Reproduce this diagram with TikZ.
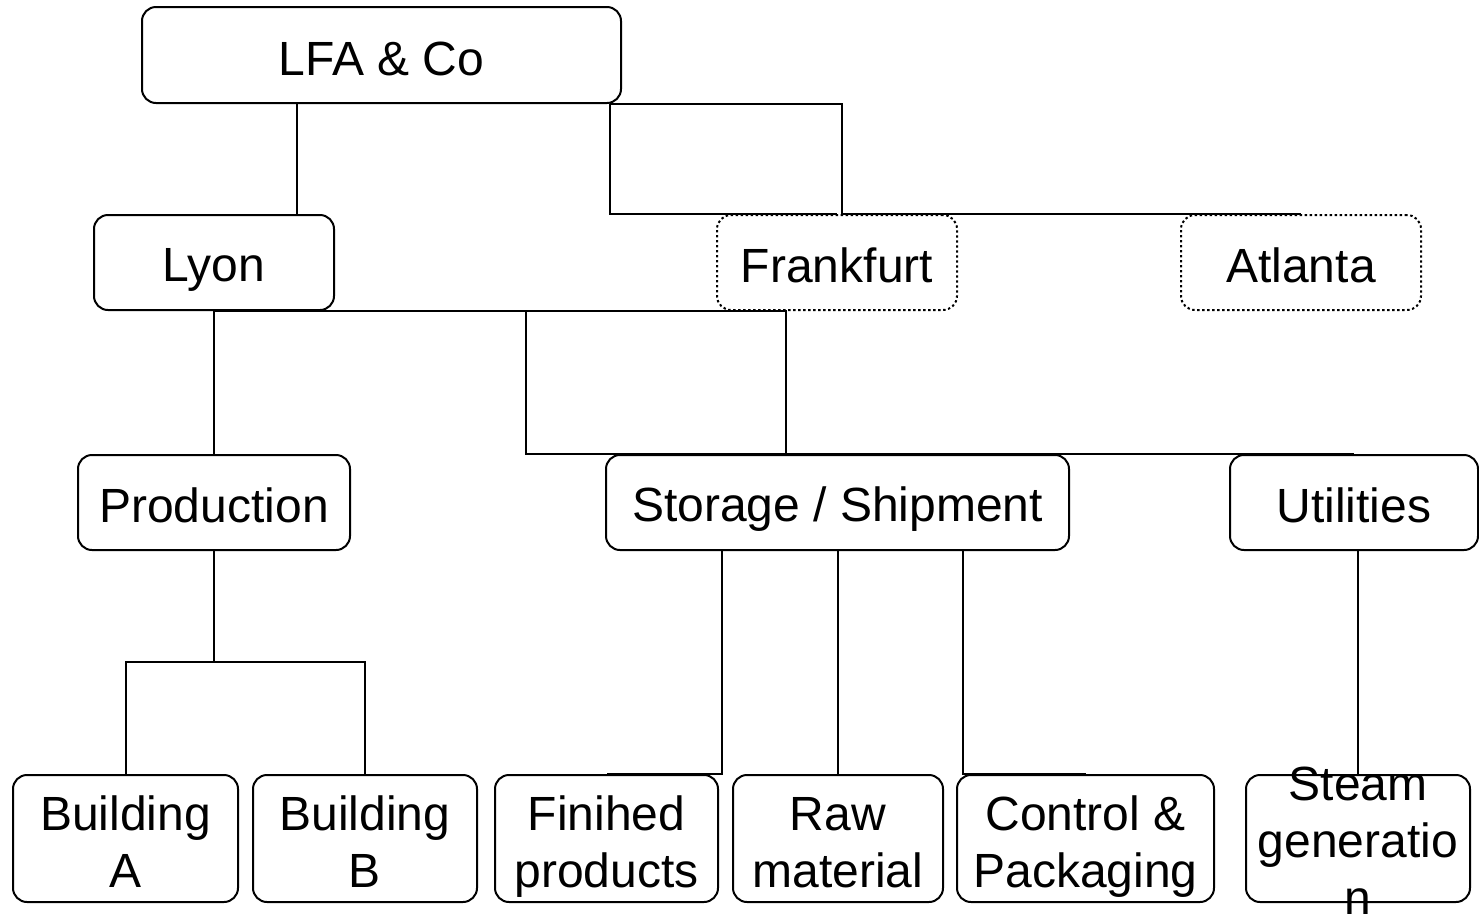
\documentclass[tikz,border=0pt]{standalone}
\usepackage{fontspec}
\setmainfont{Liberation Sans}
\usetikzlibrary{positioning,backgrounds}
% invisible struts: one-line texts get a fixed height and depth
\newcommand{\topstrut}{\rule{0pt}{24.4pt}}
\newcommand{\botstrut}{\rule[-4.1pt]{0pt}{4.1pt}}

\begin{document}
\begin{tikzpicture}[x=0.5pt, y=-0.5pt, line width=1pt,
    font=\fontsize{24}{28.5}\selectfont,
    txt/.style={inner sep=0pt, align=center, execute at begin node=\topstrut, execute at end node=\botstrut},
    unit/.style={txt, draw, fill=white, rounded corners=7pt},
    site/.style={unit, minimum height=47.5pt},
    leaf/.style={unit, minimum height=63.5pt, text height=52.6pt, text depth=4.1pt},
    planned/.style={dash pattern=on 1.2pt off 1.3pt},
    link/.style={draw=black, line width=1pt}]
  \useasboundingbox (0,0) rectangle (1479,917);

  % bend points of the connectors (only x or only y is used)
  \coordinate (dLyon) at (297,0);
  \coordinate (dOut) at (610,0);
  \coordinate (dAtl) at (842,0);
  \coordinate (dUtil) at (526,0);
  \coordinate (dStor) at (786,0);
  \coordinate (dFin) at (722,0);
  \coordinate (dCtl) at (963,0);
  \coordinate (busP) at (0,662);

  % ---------------- company
  \node[unit, minimum width=239.5pt, minimum height=48pt] (lfa) at (381.5,55) {LFA \& Co};

  % ---------------- sites (dotted = planned)
  \node[site, minimum width=120pt] (lyon) at (214,262.5) {Lyon};
  \node[site, planned, minimum width=120pt] (frank) at (837,262.5) {Frankfurt};
  \node[site, planned, minimum width=120pt] (atl) at (1301,262.5) {Atlanta};

  % ---------------- departments
  \node[site, minimum width=136pt] (prod) at (214,502.5) {Production};
  \node[site, minimum width=231.5pt] (stor) at (837.5,502.5) {Storage / Shipment};
  \node[site, minimum width=124pt] (util) at (1354,502.5) {Utilities};

  % ---------------- units
  \node[leaf, minimum width=112.5pt] (bA) at (125.5,838.5) {Building\\A};
  \node[leaf, minimum width=112pt] (bB) at (365,838.5) {Building\\B};
  \node[leaf, minimum width=111.5pt] (fin) at (606.5,838.5) {Finihed\\products};
  \node[leaf, minimum width=105pt] (raw) at (838,838.5) {Raw\\material};
  \node[leaf, minimum width=128.5pt] (ctl) at (1085.5,838.5) {Control \&\\Packaging};
  \node[leaf, minimum width=112pt] (steam) at (1358,838.5) {};

  % ---------------- connectors
  \draw[link] (lfa.south -| dLyon) -- (lyon.north -| dLyon);
  \draw[link] (lfa.south -| dOut) |- (frank.north);
  \begin{pgfonlayer}{background}
    \draw[link] (lfa.south -| dOut) -| (atl.north -| dAtl) -- (atl.north);
  \end{pgfonlayer}
  \draw[link] (lyon.south) -- (prod.north);
  \draw[link] (lyon.south) -| (stor.north -| dStor);
  \draw[link] (lyon.south) -| (util.north -| dUtil) -- (util.north);
  \draw[link] (prod.south) |- (bA.north |- busP) -- (bA.north);
  \draw[link] (prod.south) |- (bB.north |- busP) -- (bB.north);
  \draw[link] (stor.south -| dFin) |- (fin.north);
  \draw[link] (stor.south -| raw.north) -- (raw.north);
  \draw[link] (stor.south -| dCtl) |- (ctl.north);
  \draw[link] (util.south -| steam.north) -- (steam.north);

  % text overflows its box, as in the source
  \node[txt, text height=79.6pt, text depth=4.1pt] (steamtxt) at (steam.center) {Steam\\generatio\\n};
\end{tikzpicture}
\end{document}
